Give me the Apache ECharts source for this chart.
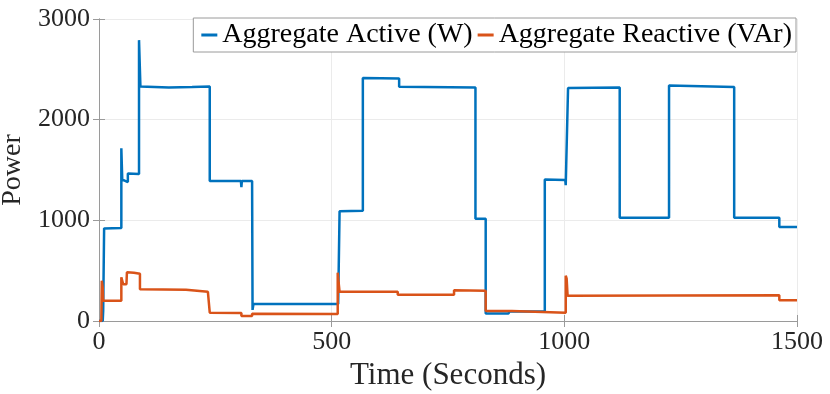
<!DOCTYPE html>
<html>
<head>
<meta charset="utf-8">
<script src="https://cdn.jsdelivr.net/npm/echarts@6/dist/echarts.min.js"></script>
<style>
  html, body { margin: 0; padding: 0; background: #fff; }
  #chart { width: 830px; height: 394px; }
</style>
</head>
<body>
<div id="chart"></div>
<script>
// 读图得到的阶跃数据 (秒, 数值)
var activeTime  = [0, 8, 9, 11, 48, 48, 50, 55, 57, 62, 62, 86, 86, 89, 89, 150, 200, 202, 238, 238, 305, 306, 307, 329, 330, 332, 514, 517, 567, 567, 645, 645, 809, 809, 831, 831, 880, 882, 958, 958, 1002, 1003, 1004, 1008, 1119, 1119, 1225, 1225, 1365, 1365, 1462, 1462, 1500];
var activeValue = [0, 0, 100, 920, 925, 1715, 1400, 1395, 1380, 1380, 1465, 1460, 2790, 2780, 2330, 2320, 2325, 2340, 2330, 1390, 1390, 1330, 1390, 1390, 110, 170, 170, 1090, 1095, 2415, 2410, 2326, 2320, 1015, 1015, 75, 75, 95, 95, 1406, 1400, 1350, 1540, 2315, 2320, 1025, 1025, 2340, 2325, 1025, 1025, 935, 935];

var reactiveTime  = [0, 5, 6, 8, 9, 48, 48, 51, 52, 59, 60, 75, 88, 88, 187, 190, 234, 238, 238, 306, 306, 329, 329, 513, 513, 515, 517, 642, 642, 763, 763, 831, 831, 887, 887, 1003, 1003, 1005, 1007, 1462, 1462, 1500];
var reactiveValue = [0, 0, 400, 330, 200, 200, 435, 440, 365, 365, 485, 480, 470, 316, 310, 305, 290, 290, 83, 80, 50, 50, 73, 70, 480, 380, 290, 290, 260, 262, 305, 300, 100, 100, 83, 83, 450, 420, 250, 255, 206, 206];

var xTicks = [0, 500, 1000, 1500];
var yTicks = [0, 1000, 2000, 3000];

var seriesNames = ['Aggregate Active (W)', 'Aggregate Reactive (VAr)'];
var colors = ['#0072BD', '#D95319'];

function zip(t, v) {
  var out = [];
  for (var i = 0; i < t.length; i++) out.push([t[i], v[i]]);
  return out;
}

var font = 'Liberation Serif';
var axisGray = '#9a9a9a';
var plain = function (v) { return String(v); };

var option = {
  animation: false,
  backgroundColor: '#fff',
  grid: { left: 99, top: 19, right: 33, bottom: 73, containLabel: false, outerBoundsMode: 'none' },
  legend: {
    data: seriesNames,
    right: 34,
    top: 18,
    orient: 'horizontal',
    padding: [2, 4, 2, 8],
    itemGap: 5,
    itemWidth: 16,
    itemHeight: 3,
    icon: 'rect',
    borderColor: axisGray,
    borderWidth: 1,
    borderRadius: 0,
    backgroundColor: '#fff',
    textStyle: { fontFamily: font, fontSize: 28, color: '#000', lineHeight: 30 }
  },
  xAxis: [{
    type: 'value',
    min: xTicks[0], max: xTicks[xTicks.length - 1], interval: 500,
    name: 'Time (Seconds)',
    nameLocation: 'middle',
    nameGap: 33,
    nameTextStyle: { fontFamily: font, fontSize: 31, color: '#262626' },
    axisLine: { show: true, lineStyle: { color: axisGray, width: 1 } },
    axisTick: { show: true, inside: true, length: 6, lineStyle: { color: axisGray } },
    axisLabel: { fontFamily: font, fontSize: 26, color: '#262626', margin: 8, formatter: plain },
    splitLine: { show: true, lineStyle: { color: '#ebebeb', width: 1 } }
  }, {
    type: 'value', position: 'top',
    min: xTicks[0], max: xTicks[xTicks.length - 1], interval: 500,
    axisLine: { show: true, lineStyle: { color: axisGray, width: 1 } },
    axisTick: { show: true, inside: true, length: 6, lineStyle: { color: axisGray } },
    axisLabel: { show: false },
    splitLine: { show: false }
  }],
  yAxis: [{
    type: 'value',
    min: yTicks[0], max: yTicks[yTicks.length - 1], interval: 1000,
    name: 'Power',
    nameLocation: 'middle',
    nameGap: 70,
    nameTextStyle: { fontFamily: font, fontSize: 28, color: '#262626' },
    axisLine: { show: true, lineStyle: { color: axisGray, width: 1 } },
    axisTick: { show: true, inside: true, length: 6, lineStyle: { color: axisGray } },
    axisLabel: { fontFamily: font, fontSize: 26, color: '#262626', margin: 9, formatter: plain },
    splitLine: { show: true, lineStyle: { color: '#ebebeb', width: 1 } }
  }, {
    type: 'value', position: 'right',
    min: yTicks[0], max: yTicks[yTicks.length - 1], interval: 1000,
    axisLine: { show: true, lineStyle: { color: axisGray, width: 1 } },
    axisTick: { show: true, inside: true, length: 6, lineStyle: { color: axisGray } },
    axisLabel: { show: false },
    splitLine: { show: false }
  }],
  series: [{
    name: seriesNames[0],
    type: 'line',
    showSymbol: false,
    symbol: 'none',
    color: colors[0],
    lineStyle: { width: 2.5, color: colors[0] },
    data: zip(activeTime, activeValue)
  }, {
    name: seriesNames[1],
    type: 'line',
    showSymbol: false,
    symbol: 'none',
    color: colors[1],
    lineStyle: { width: 2.5, color: colors[1] },
    data: zip(reactiveTime, reactiveValue)
  }]
};

var myChart = echarts.init(document.getElementById('chart'));
myChart.setOption(option);
</script>
</body>
</html>
